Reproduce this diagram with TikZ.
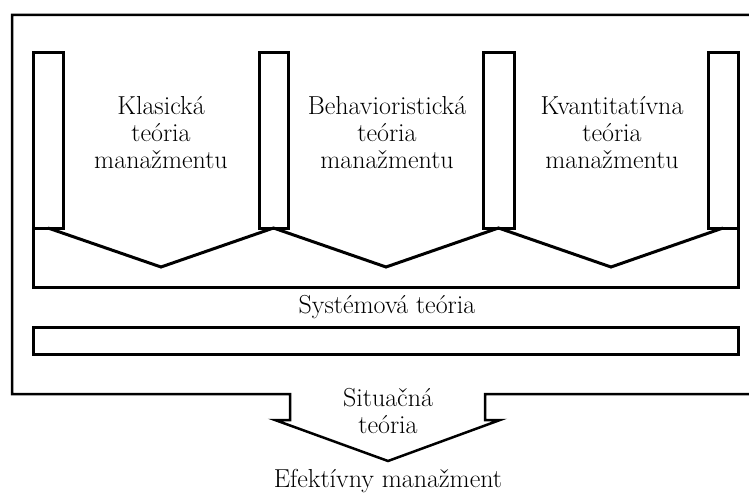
\documentclass[tikz,border=0pt]{standalone}
\usepackage{fontspec}
\begin{document}
\begin{tikzpicture}[x=1pt,y=-1pt,
  frame/.style={line width=3pt, line join=miter},
  thin frame/.style={line width=2.5pt, line join=miter},
  lbl/.style={font=\fontsize{26}{27}\selectfont, align=center, inner sep=0pt}]
\useasboundingbox (0,0) rectangle (749,495);
% outer frame with arrow
\coordinate (otr) at (749,15);
\coordinate (obr) at (749,394);
\draw[thin frame] (otr) -- (12,15) -- (12,394) -- (290,394) -- (290,420) -- (275,420)
  -- (388,461) -- (500,420) -- (485,420) -- (485,394) -- (obr);
% inner box
\draw[frame] (33,53) -- (33,287) -- (738,287) -- (738,53);
% bars
\draw[frame] (33,53) rectangle (63,228);
\draw[frame] (259,53) rectangle (288,228);
\draw[frame] (483,53) rectangle (514,228);
\draw[frame] (708,53) rectangle (738,228);
% zigzag
\draw[frame] (48,228) -- (161,267) -- (273.5,228) -- (386,267) -- (498.5,228) -- (611,267) -- (723,228);
% second box
\draw[frame] (33,327) rectangle (738,354);
% texts
\node[lbl] (klas) at (161,133) {Klasická\\teória\\manažmentu};
\node[lbl] (behav) at (387,133) {Behavioristická\\teória\\manažmentu};
\node[lbl] (kvant) at (612,133) {Kvantitatívna\\teória\\manažmentu};
\node[lbl] (sys) at (387,307) {Systémová teória};
\node[lbl] (sit) at (388,411) {Situačná\\teória};
\node[lbl] (efek) at (388,481) {Efektívny manažment};
\end{tikzpicture}
\end{document}
